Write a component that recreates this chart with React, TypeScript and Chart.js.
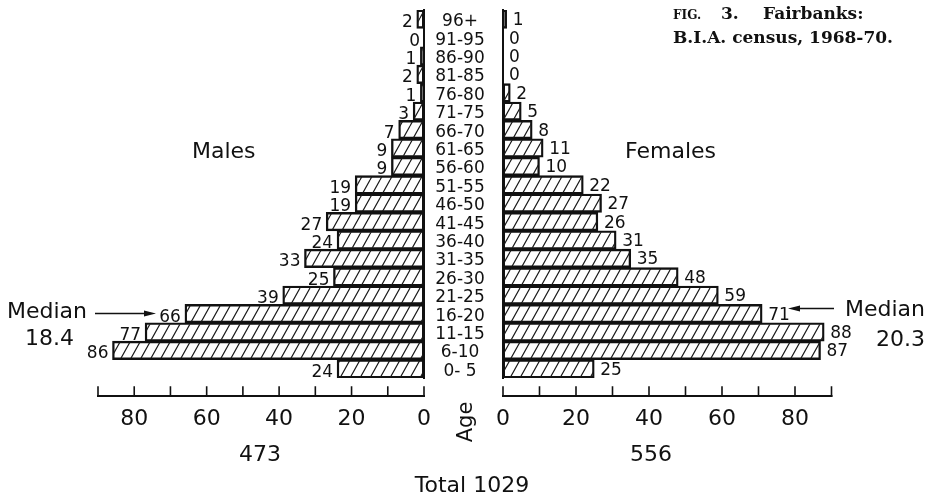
import React, { useEffect, useRef } from 'react';
import { Chart, registerables } from 'chart.js';

Chart.register(...registerables);
Chart.defaults.font.family = '"DejaVu Sans", sans-serif';

// ---------- data ----------
const ageGroups = ['96+', '91-95', '86-90', '81-85', '76-80', '71-75', '66-70', '61-65', '56-60', '51-55',
  '46-50', '41-45', '36-40', '31-35', '26-30', '21-25', '16-20', '11-15', '6-10', '0- 5'];
const males = [2, 0, 1, 2, 1, 3, 7, 9, 9, 19, 19, 27, 24, 33, 25, 39, 66, 77, 86, 24];
const females = [1, 0, 0, 0, 2, 5, 8, 11, 10, 22, 27, 26, 31, 35, 48, 59, 71, 88, 87, 25];
const axisMax = 90;
const tickStep = 10;
const labelStep = 20;
const maleMedian = '18.4';
const femaleMedian = '20.3';

const maleTotal = males.reduce((a, b) => a + b, 0);
const femaleTotal = females.reduce((a, b) => a + b, 0);

const INK = '#111';
const W = 929;
const H = 496;

function makeHatch(ctx: CanvasRenderingContext2D): CanvasPattern | string {
  const w = 10, h = 18;
  const c = document.createElement('canvas');
  c.width = w; c.height = h;
  const g = c.getContext('2d')!;
  g.strokeStyle = '#1a1a1a';
  g.lineWidth = 1.2;
  g.beginPath();
  for (const dx of [-w, 0, w]) { g.moveTo(dx, h); g.lineTo(dx + w, 0); }
  g.stroke();
  return ctx.createPattern(c, 'repeat') || '#fff';
}

const axisLinePlugin = {
  id: 'axisLine',
  afterDraw(chart: any) {
    const sx = chart.scales.x;
    const y0 = chart.chartArea.bottom + 18;
    const ctx = chart.ctx as CanvasRenderingContext2D;
    ctx.save();
    ctx.strokeStyle = INK;
    ctx.lineCap = 'square';
    ctx.lineWidth = 2;
    ctx.beginPath();
    ctx.moveTo(sx.getPixelForValue(sx.min), y0);
    ctx.lineTo(sx.getPixelForValue(sx.max), y0);
    ctx.stroke();
    ctx.lineWidth = 1.6;
    ctx.beginPath();
    sx.ticks.forEach((t: any) => {
      const px = sx.getPixelForValue(t.value);
      ctx.moveTo(px, y0);
      ctx.lineTo(px, y0 - 9);
    });
    ctx.stroke();
    ctx.restore();
  },
};

function valueLabelPlugin(side: 'left' | 'right') {
  return {
    id: 'valueLabels',
    afterDatasetsDraw(chart: any) {
      const ctx = chart.ctx as CanvasRenderingContext2D;
      const meta = chart.getDatasetMeta(0);
      const data = chart.data.datasets[0].data as number[];
      ctx.save();
      ctx.font = '17px "DejaVu Sans"';
      ctx.fillStyle = INK;
      ctx.textBaseline = 'alphabetic';
      ctx.textAlign = side === 'left' ? 'right' : 'left';
      meta.data.forEach((bar: any, i: number) => {
        const x = side === 'left' ? bar.x - 4 : bar.x + 6;
        ctx.fillText(String(data[i]), x, bar.y + (side === 'left' ? 8 : 6));
      });
      ctx.restore();
    },
  };
}

const ageLabelPlugin = {
  id: 'ageLabels',
  afterDraw(chart: any) {
    const sy = chart.scales.y;
    const ctx = chart.ctx as CanvasRenderingContext2D;
    const cx = chart.chartArea.left - 43;
    ctx.save();
    ctx.font = '17px "DejaVu Sans"';
    ctx.fillStyle = INK;
    ctx.textAlign = 'center';
    ctx.textBaseline = 'alphabetic';
    ageGroups.forEach((lab, i) => {
      ctx.fillText(lab, cx, sy.getPixelForValue(i) + 7);
    });
    ctx.restore();
  },
};

function makeConfig(side: 'left' | 'right', values: number[], ctx: CanvasRenderingContext2D): any {
  const isLeft = side === 'left';
  const plugins: any[] = [axisLinePlugin, valueLabelPlugin(side)];
  if (!isLeft) plugins.push(ageLabelPlugin);
  return {
    type: 'bar',
    data: {
      labels: ageGroups,
      datasets: [{
        data: values,
        backgroundColor: makeHatch(ctx),
        borderColor: INK,
        borderWidth: 1.7,
        borderSkipped: false,
        barPercentage: 1,
        categoryPercentage: 1,
      }],
    },
    options: {
      indexAxis: 'y',
      responsive: false,
      animation: false,
      events: [],
      layout: { padding: { top: 10, bottom: 0, left: isLeft ? 98 : 503, right: isLeft ? 505 : 97.5 } },
      plugins: { legend: { display: false }, tooltip: { enabled: false } },
      scales: {
        x: {
          type: 'linear',
          min: 0,
          max: axisMax,
          reverse: isLeft,
          grid: { display: false, drawTicks: false },
          border: { display: false },
          ticks: {
            stepSize: tickStep,
            autoSkip: false,
            maxRotation: 0,
            padding: 28,
            color: INK,
            font: { size: 22 },
            callback: (v: number) => (v % labelStep === 0 && v < axisMax ? String(v) : ''),
          },
          afterFit: (s: any) => { s.height = 118; },
        },
        y: {
          position: isLeft ? 'right' : 'left',
          grid: { display: false, drawTicks: false },
          border: { display: true, color: INK, width: 2 },
          ticks: { display: false },
          afterFit: (s: any) => { s.width = 0; },
        },
      },
    },
    plugins,
  };
}

type TxtProps = {
  x: number; base: number; size: number; children: React.ReactNode;
  align?: 'left' | 'center' | 'right'; family?: string; weight?: number;
};
function Txt({ x, base, size, children, align = 'left', family = '"DejaVu Sans", sans-serif', weight = 400 }: TxtProps) {
  const style: React.CSSProperties = {
    position: 'absolute',
    top: base - 0.846 * size,
    fontSize: size,
    lineHeight: 1,
    fontFamily: family,
    fontWeight: weight,
    color: INK,
    whiteSpace: 'nowrap',
  };
  if (align === 'left') style.left = x;
  else if (align === 'right') style.right = W - x;
  else { style.left = x; style.transform = 'translateX(-50%)'; }
  return <div style={style}>{children}</div>;
}

export default function App() {
  const leftRef = useRef<HTMLCanvasElement>(null);
  const rightRef = useRef<HTMLCanvasElement>(null);

  useEffect(() => {
    const lc = leftRef.current!;
    const rc = rightRef.current!;
    const l = new Chart(lc, makeConfig('left', males, lc.getContext('2d')!));
    const r = new Chart(rc, makeConfig('right', females, rc.getContext('2d')!));
    return () => { l.destroy(); r.destroy(); };
  }, []);

  const serif = '"DejaVu Serif", serif';
  const canvasStyle: React.CSSProperties = { position: 'absolute', left: 0, top: 0, width: W, height: H };

  return (
    <div style={{ position: 'absolute', left: 0, top: 0, width: W, height: H, background: '#fff', overflow: 'hidden' }}>
      <canvas ref={leftRef} width={W} height={H} style={canvasStyle} />
      <canvas ref={rightRef} width={W} height={H} style={canvasStyle} />
      <svg width={W} height={H} style={{ position: 'absolute', left: 0, top: 0 }}>
        <line x1={95} y1={313.5} x2={146} y2={313.5} stroke={INK} strokeWidth={1.5} />
        <polygon points="156,313.5 144,310.5 144,316.5" fill={INK} />
        <line x1={798} y1={308.5} x2={834} y2={308.5} stroke={INK} strokeWidth={1.5} />
        <polygon points="788,308.5 800,305.5 800,311.5" fill={INK} />
      </svg>

      <Txt x={673} base={19.5} size={12} family={serif} weight={700}>FIG.</Txt>
      <Txt x={721} base={19.5} size={17} family={serif} weight={700}>3.</Txt>
      <Txt x={763} base={19.5} size={17} family={serif} weight={700}>Fairbanks:</Txt>
      <Txt x={673} base={43.5} size={17} family={serif} weight={700}>B.I.A. census, 1968-70.</Txt>

      <Txt x={192} base={158.5} size={22}>Males</Txt>
      <Txt x={625} base={158.5} size={22}>Females</Txt>

      <Txt x={7} base={318.5} size={22}>Median</Txt>
      <Txt x={25} base={346} size={22}>{maleMedian}</Txt>
      <Txt x={925} base={316.7} size={22} align="right">Median</Txt>
      <Txt x={925} base={346.7} size={22} align="right">{femaleMedian}</Txt>

      <Txt x={260} base={461.7} size={22} align="center">{String(maleTotal)}</Txt>
      <Txt x={651} base={461.7} size={22} align="center">{String(femaleTotal)}</Txt>
      <Txt x={472} base={493} size={22} align="center">{'Total ' + (maleTotal + femaleTotal)}</Txt>

      <div style={{
        position: 'absolute', left: 465, top: 421.7, transform: 'translate(-50%, -50%) rotate(-90deg)',
        fontFamily: '"DejaVu Sans", sans-serif', fontSize: 21, lineHeight: 1, color: INK, whiteSpace: 'nowrap',
      }}>Age</div>
    </div>
  );
}
